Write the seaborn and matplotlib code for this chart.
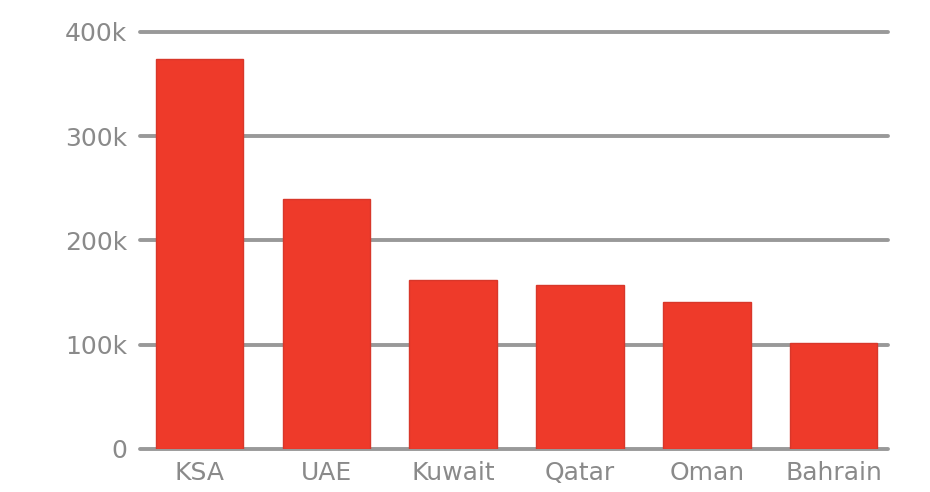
import matplotlib
matplotlib.use("Agg")
import matplotlib.pyplot as plt
import seaborn as sns
import pandas as pd

countries = ["KSA", "UAE", "Kuwait", "Qatar", "Oman", "Bahrain"]
values = [374000, 240000, 162000, 157000, 141000, 102000]
ytick_values = [0, 100000, 200000, 300000, 400000]
ytick_labels = ["0", "100k", "200k", "300k", "400k"]

df = pd.DataFrame({"country": countries, "value": values})

sns.set_theme(style="white")
plt.rcParams["font.family"] = ["DejaVu Sans"]

fig = plt.figure(figsize=(9.3, 4.92), dpi=100)
ax = fig.add_axes([0.1505, 0.0874, 0.955 - 0.1505, 0.935 - 0.0874])

sns.barplot(data=df, x="country", y="value", color="#ee3a2a", saturation=1,
            width=0.69, edgecolor="#d8372a", linewidth=1, ax=ax, zorder=3)

ax.set_ylim(0, 400000)
ax.set_xlim(-0.47, 5.43)
ax.set_yticks(ytick_values)
ax.set_yticklabels(ytick_labels)
ax.yaxis.grid(True, color="#999999", linewidth=2.8, zorder=0)
ax.set_axisbelow(True)
for gl in ax.get_ygridlines():
    gl.set_clip_on(False)
for s in ax.spines.values():
    s.set_visible(False)
ax.tick_params(axis="y", length=0, pad=9, labelsize=18, labelcolor="#8a8a8a")
ax.tick_params(axis="x", length=0, pad=9, labelsize=18, labelcolor="#8a8a8a")
ax.set_xlabel("")
ax.set_ylabel("")

fig.savefig("out.png", dpi=100, facecolor="white")
